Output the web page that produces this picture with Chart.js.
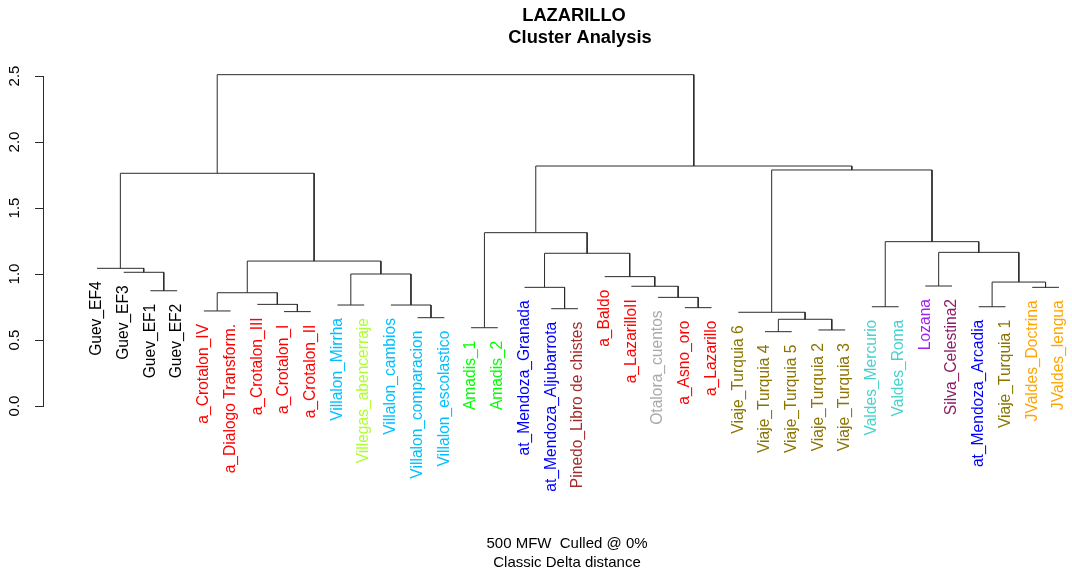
<!DOCTYPE html>
<html lang="es">
<head>
  <meta charset="UTF-8" />
  <title>LAZARILLO - Cluster Analysis</title>
  <script src="https://cdn.jsdelivr.net/npm/chart.js"></script>
  <style>
    html, body { margin: 0; padding: 0; background: #fff; }
    .wrap { position: relative; width: 1072px; height: 572px; }
  </style>
</head>
<body>
  <div class="wrap"><canvas id="dendro"></canvas></div>

  <script>
    // leaves, left to right as plotted
    const leafLabels = [
      'Guev_EF4', 'Guev_EF3', 'Guev_EF1', 'Guev_EF2',
      'a_Crotalon_IV', 'a_Dialogo Transform.', 'a_Crotalon_III', 'a_Crotalon_I', 'a_Crotalon_II',
      'Villalon_Mirrha', 'Villegas_abencerraje', 'Villalon_cambios', 'Villalon_comparacion', 'Villalon_escolastico',
      'Amadis_1', 'Amadis_2', 'at_Mendoza_Granada', 'at_Mendoza_Aljubarrota', 'Pinedo_Libro de chistes',
      'a_Baldo', 'a_LazarilloII', 'Otalora_cuentos', 'a_Asno_oro', 'a_Lazarillo',
      'Viaje_Turquia 6', 'Viaje_Turquia 4', 'Viaje_Turquia 5', 'Viaje_Turquia 2', 'Viaje_Turquia 3',
      'Valdes_Mercurio', 'Valdes_Roma', 'Lozana', 'Silva_Celestina2', 'at_Mendoza_Arcadia',
      'Viaje_Turquia 1', 'JValdes_Doctrina', 'JValdes_lengua'
    ];

    // merges like R's hclust: negative = leaf (1-based position), positive = earlier merge row (1-based)
    const mergeLeft  = [-26, -28, -15,  1, -13, -25, -8, -5, -18, -23, -30, -34, -10, -12, -7, -22,  8,  -3, -17, -36, -21, -32, 12, -20, 13,  -2,  -1, 17, 19, 22, 11,  3, 27,  6, 32, 33];
    const mergeRight = [-27, -29, -16,  2, -14,   4, -9, -6, -19, -24, -31, -35, -11,   5,  7,  10, 15,  -4,   9, -37,  16, -33, 20,  21, 14,  18,  26, 25, 24, 23, 30, 29, 28, 31, 34, 35];
    const mergeHeight = [0.563, 0.576, 0.593, 0.657, 0.669, 0.710, 0.715, 0.720, 0.737, 0.745, 0.752, 0.752,
                         0.765, 0.765, 0.770, 0.823, 0.858, 0.873, 0.899, 0.899, 0.907, 0.909, 0.939, 0.980,
                         1.000, 1.013, 1.043, 1.098, 1.157, 1.164, 1.245, 1.313, 1.763, 1.788, 1.818, 2.510];

    const yTicks = [0, 0.5, 1, 1.5, 2, 2.5];
    const titleLines = ['LAZARILLO', 'Cluster Analysis'];
    const captionLines = ['500 MFW  Culled @ 0%', 'Classic Delta distance'];

    // label colours by the text before the first underscore
    const groupColors = {
      Guev: '#000000', a: '#ff0000', Villalon: '#00bfff', Villegas: '#adff2f',
      Amadis: '#00ff00', at: '#0000ff', Pinedo: '#a52a2a', Otalora: '#a9a9a9',
      Viaje: '#8b7500', Valdes: '#48d1cc', Lozana: '#a020f0', Silva: '#8b1c62', JValdes: '#ffa500'
    };
    const LINE = '#2b2b2b';
    const FONT = '"Liberation Sans", Arial, sans-serif';

    // walk the merges, build one polyline per merge node
    const nodeX = [];
    const leafParentH = [];
    const datasets = mergeHeight.map((h, i) => {
      const kids = [mergeLeft[i], mergeRight[i]].map(c => {
        if (c < 0) { leafParentH[-c - 1] = h; return { x: -c, h: h }; }
        return { x: nodeX[c - 1], h: mergeHeight[c - 1] };
      });
      nodeX[i] = (kids[0].x + kids[1].x) / 2;
      return {
        data: [
          { x: kids[0].x, y: kids[0].h }, { x: kids[0].x, y: h },
          { x: kids[1].x, y: h }, { x: kids[1].x, y: kids[1].h }
        ],
        showLine: true,
        borderColor: LINE,
        borderWidth: 1,
        pointRadius: 0,
        tension: 0,
        clip: false
      };
    });

    const textPlugin = {
      id: 'dendroText',
      afterDraw(chart) {
        const { ctx, scales: { x, y } } = chart;
        ctx.save();

        // leaf labels hang under their merge line
        ctx.textAlign = 'right';
        ctx.textBaseline = 'middle';
        ctx.font = '15.6px ' + FONT;
        leafLabels.forEach((lab, i) => {
          ctx.save();
          ctx.translate(x.getPixelForValue(i + 1), y.getPixelForValue(leafParentH[i]) + 13);
          ctx.rotate(-Math.PI / 2);
          ctx.fillStyle = groupColors[lab.split('_')[0]] || '#000';
          ctx.fillText(lab, 0, 0);
          ctx.restore();
        });

        // y tick labels, parallel to the axis
        ctx.textAlign = 'center';
        ctx.fillStyle = '#000';
        ctx.font = '15px ' + FONT;
        y.ticks.forEach(t => {
          ctx.save();
          ctx.translate(y.right - 28, y.getPixelForValue(t.value));
          ctx.rotate(-Math.PI / 2);
          ctx.fillText(t.value.toFixed(1), 0, 0);
          ctx.restore();
        });

        // title
        ctx.font = 'bold 18.3px ' + FONT;
        ctx.fillText(titleLines[0], 574, 16);
        ctx.fillText(titleLines[1], 580, 38);

        // caption under the plot
        ctx.font = '15px ' + FONT;
        captionLines.forEach((s, i) => ctx.fillText(s, 567, 544 + i * 19));

        ctx.restore();
      }
    };

    new Chart(document.getElementById('dendro'), {
      type: 'scatter',
      data: { datasets },
      options: {
        responsive: true,
        maintainAspectRatio: false,
        animation: false,
        layout: { padding: { top: 76, bottom: 166, left: 0, right: 4 } },
        plugins: { legend: { display: false }, tooltip: { enabled: false } },
        scales: {
          x: { type: 'linear', display: false, min: 1 - 2.02, max: leafLabels.length + 0.34 },
          y: {
            type: 'linear', min: 0, max: 2.5,
            afterBuildTicks: s => { s.ticks = yTicks.map(v => ({ value: v })); },
            afterFit: s => { s.width = 43; },
            ticks: { display: false },
            grid: { drawOnChartArea: false, drawTicks: true, tickLength: 8, color: LINE },
            border: { display: true, color: LINE }
          }
        }
      },
      plugins: [textPlugin]
    });
  </script>
</body>
</html>
